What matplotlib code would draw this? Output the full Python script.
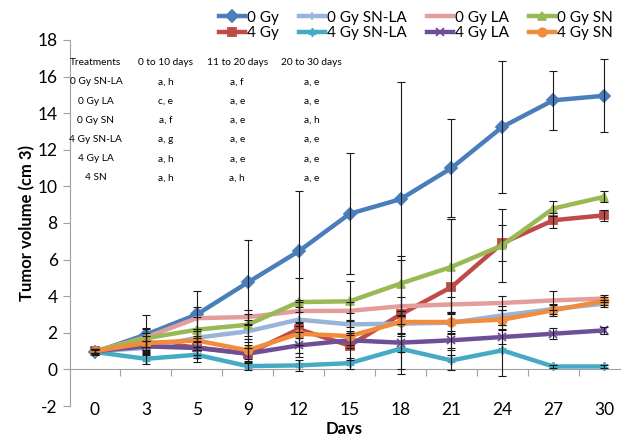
import matplotlib
matplotlib.use("Agg")
import matplotlib.pyplot as plt

plt.rcParams["font.family"] = ["Lato", "DejaVu Sans"]
plt.rcParams["axes.unicode_minus"] = False

days = ["0", "3", "5", "9", "12", "15", "18", "21", "24", "27", "30"]

# mean tumour volume (cm3) per group, with error bar half-widths
gy0 = [0.95, 1.9, 3.0, 4.75, 6.45, 8.5, 9.3, 11.0, 13.25, 14.7, 14.95]
gy0_err = [0.15, 1.05, 1.3, 2.3, 3.3, 3.3, 6.4, 2.7, 3.6, 1.6, 2.0]
gy4 = [1.0, 1.5, 1.2, 0.86, 2.2, 1.3, 3.0, 4.5, 6.9, 8.15, 8.42]
gy4_err = [0.1, 0.5, 0.6, 0.5, 1.5, 0.8, 3.0, 3.7, 1.0, 0.4, 0.3]
gy0_snla = [1.0, 1.17, 1.73, 2.08, 2.72, 2.46, 2.5, 2.55, 2.95, 3.3, 3.59]
gy0_snla_err = [0.1, 0.4, 0.5, 0.6, 0.7, 0.6, 0.7, 0.6, 0.5, 0.3, 0.2]
gy4_snla = [0.95, 0.58, 0.8, 0.18, 0.22, 0.34, 1.13, 0.49, 1.04, 0.16, 0.16]
gy4_snla_err = [0.1, 0.3, 0.4, 0.2, 0.3, 0.3, 1.37, 0.55, 1.4, 0.1, 0.1]
gy0_la = [1.0, 1.75, 2.8, 2.86, 3.19, 3.2, 3.45, 3.55, 3.63, 3.77, 3.87]
gy0_la_err = [0.1, 0.5, 0.6, 0.4, 0.6, 0.5, 0.5, 0.4, 0.4, 0.5, 0.2]
gy4_la = [1.0, 1.26, 1.17, 0.86, 1.31, 1.59, 1.46, 1.59, 1.77, 1.95, 2.13]
gy4_la_err = [0.1, 0.3, 0.4, 0.3, 0.4, 0.4, 0.5, 0.4, 0.4, 0.3, 0.2]
gy0_sn = [1.0, 1.7, 2.17, 2.44, 3.68, 3.72, 4.69, 5.6, 6.78, 8.79, 9.43]
gy0_sn_err = [0.1, 0.5, 0.7, 0.6, 1.3, 1.1, 1.5, 2.6, 2.0, 0.4, 0.3]
gy4_sn = [1.0, 1.44, 1.58, 1.04, 1.95, 1.82, 2.59, 2.59, 2.72, 3.23, 3.74]
gy4_sn_err = [0.1, 0.4, 0.5, 0.6, 0.6, 0.5, 0.6, 0.5, 0.5, 0.3, 0.2]

# letters table drawn inside the plot area
table_header = ["Treatments", "0 to 10 days", "11 to 20 days", "20 to 30 days"]
table_rows = [
    ["0 Gy SN-LA", "a, h", "a, f", "a, e"],
    ["0 Gy LA", "c, e", "a, e", "a, e"],
    ["0 Gy SN", "a, f", "a, e", "a, h"],
    ["4 Gy SN-LA", "a, g", "a, e", "a, e"],
    ["4 Gy LA", "a, h", "a, e", "a, e"],
    ["4 SN", "a, h", "a, h", "a, e"],
]

series = [
    ("0 Gy", gy0, gy0_err, "#4a7ebb", "D"),
    ("4 Gy", gy4, gy4_err, "#be4b48", "s"),
    ("0 Gy SN-LA", gy0_snla, gy0_snla_err, "#98b4d8", "+"),
    ("4 Gy SN-LA", gy4_snla, gy4_snla_err, "#46aac4", (6, 2, 0)),
    ("0 Gy LA", gy0_la, gy0_la_err, "#e39e9b", None),
    ("4 Gy LA", gy4_la, gy4_la_err, "#6e4e96", "x"),
    ("0 Gy SN", gy0_sn, gy0_sn_err, "#98b954", "^"),
    ("4 Gy SN", gy4_sn, gy4_sn_err, "#f08c3c", "o"),
]

fig = plt.figure(figsize=(6.25, 4.34), dpi=100)
ax = fig.add_axes([0.1112, 0.0645, 0.880, 0.8435])

x = list(range(len(days)))
handles = []
for name, vals, err, color, marker in series:
    ln, = ax.plot(x, vals, color=color, lw=3.2, marker=marker, ms=6,
                  mew=1.3, label=name, zorder=3)
    ax.errorbar(x, vals, yerr=err, fmt="none", ecolor="#1a1a1a",
                elinewidth=0.8, capsize=3, capthick=0.8, zorder=4)
    handles.append(ln)

ax.set_xlim(-0.5, 10.3)
ax.set_ylim(-2, 18)
ax.set_yticks(range(-2, 19, 2))
ax.set_xticks(x)
ax.set_xticklabels(days)
ax.tick_params(axis="x", length=0, labelsize=12.5, pad=-3)
ax.tick_params(axis="y", length=5, color="#a0a0a0", labelsize=12.5)

for side in ["top", "right", "bottom"]:
    ax.spines[side].set_visible(False)
ax.spines["left"].set_color("#a0a0a0")

# category axis crossing at zero, tick marks between categories
zero_axis = ax.secondary_xaxis(0.1)
zero_axis.set_xticks([i + 0.5 for i in range(len(days) - 1)])
zero_axis.tick_params(length=5, color="#a0a0a0", labelbottom=False)
zero_axis.spines["bottom"].set_color("#a0a0a0")

ax.set_xlabel("Days", fontsize=12, fontweight="bold", labelpad=2)
ax.set_ylabel("Tumor volume (cm 3)", fontsize=12, fontweight="bold", labelpad=2)

col_x = [0.048, 0.175, 0.305, 0.44]
row_y = 0.938
for j, head in enumerate(table_header):
    ax.text(col_x[j], row_y, head, transform=ax.transAxes, fontsize=7.3,
            ha="center", va="center")
for i, row in enumerate(table_rows):
    for j, cell in enumerate(row):
        ax.text(col_x[j], row_y - (i + 1) * 0.0525, cell,
                transform=ax.transAxes, fontsize=7.3, ha="center", va="center")

fig.legend(handles=handles, ncol=4, loc="upper right",
           bbox_to_anchor=(0.998, 1.0), frameon=False, fontsize=11,
           handlelength=1.7, handletextpad=0.15, columnspacing=1.3,
           labelspacing=0.1, borderaxespad=0.3)

fig.savefig("out.png", dpi=100)
